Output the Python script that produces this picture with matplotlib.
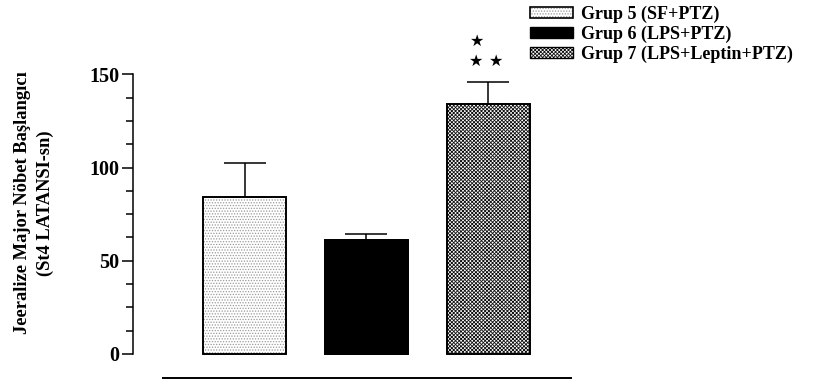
import numpy as np
import matplotlib
matplotlib.use("Agg")
import matplotlib.pyplot as plt
from matplotlib.patches import Patch
from matplotlib.legend_handler import HandlerTuple

# group means and SEM (latency in seconds)
groups = ["Grup 5 (SF+PTZ)", "Grup 6 (LPS+PTZ)", "Grup 7 (LPS+Leptin+PTZ)"]
means = [84.4, 61.1, 134.1]
sems = [18.2, 3.1, 11.9]
yticks = [0, 50, 100, 150]
ylabel = "Jeeralize Major Nöbet Başlangıcı\n(St4 LATANSI-sn)"
sig_marks = ["★", "★ ★"]

plt.rcParams["font.family"] = ["Liberation Serif", "DejaVu Sans"]
plt.rcParams["font.weight"] = "bold"
plt.rcParams["hatch.linewidth"] = 0.6

fig = plt.figure(figsize=(8.37, 3.83), dpi=100)
ax = fig.add_axes([133 / 837, 5 / 383, 467 / 837, 303.7 / 383])

x = np.arange(1, len(means) + 1)
width = 0.68

DOTS = "......"
CHECK = "xxxxxxxxx"

# bar 1: fine grey dots, bar 2: solid black, bar 3: fine checker
ax.bar(x[0], means[0], width, color="white", edgecolor="#9a9a9a",
       hatch=DOTS, linewidth=0)
ax.bar(x[1], means[1], width, color="black", edgecolor="black", linewidth=1.1)
ax.bar(x[2], means[2], width, color="white", edgecolor="#111111",
       hatch=CHECK, linewidth=0)
ax.bar(x, means, width, color="none", edgecolor="black", linewidth=1.4)

ax.errorbar(x, means, yerr=[np.zeros(len(sems)), sems], fmt="none",
            ecolor="black", elinewidth=1.1, capsize=14.8, capthick=1.1)

# significance stars above group 7
top = means[2] + sems[2]
ax.annotate(sig_marks[0], (x[2], top), xytext=(-8.3, 28.8), textcoords="offset points",
            ha="center", va="center", fontsize=11.5, family="DejaVu Sans")
ax.annotate(sig_marks[1], (x[2], top), xytext=(-1.4, 14.4), textcoords="offset points",
            ha="center", va="center", fontsize=11.5, family="DejaVu Sans")

ax.set_xlim(0.086, 3.914)
ax.set_ylim(-12.9, 150)
ax.set_yticks(yticks)
ax.set_yticks(np.arange(0, 151, 12.5), minor=True)
ax.tick_params(axis="y", which="major", length=8, width=1.1, pad=2, labelsize=14.5)
ax.tick_params(axis="y", which="minor", length=5, width=1.1)
ax.set_xticks([])

for s in ["top", "right"]:
    ax.spines[s].set_visible(False)
ax.spines["left"].set_bounds(0, 150)
ax.spines["left"].set_linewidth(1.1)
ax.spines["bottom"].set_bounds(0.332, 3.676)
ax.spines["bottom"].set_linewidth(1.4)

fig.text(34 / 837, 1 - 203 / 383, ylabel, rotation=90, ha="center", va="center",
         fontsize=13.3, fontweight="bold", linespacing=1.4)

h1 = (Patch(facecolor="white", edgecolor="#9a9a9a", hatch=DOTS, linewidth=0),
      Patch(facecolor="none", edgecolor="black", linewidth=1.2))
h2 = Patch(facecolor="black", edgecolor="black")
h3 = (Patch(facecolor="white", edgecolor="#111111", hatch=CHECK, linewidth=0),
      Patch(facecolor="none", edgecolor="black", linewidth=1.0))
fig.legend([h1, h2, h3], groups, handler_map={tuple: HandlerTuple(ndivide=1, pad=0)},
           loc="upper left", bbox_to_anchor=(530 / 837, 1 - 6 / 383),
           frameon=False, borderpad=0, borderaxespad=0,
           handlelength=2.4, handleheight=0.55, handletextpad=0.4, labelspacing=0.14,
           prop={"weight": "bold", "size": 13})

fig.savefig("out.png", dpi=100, facecolor="white")
